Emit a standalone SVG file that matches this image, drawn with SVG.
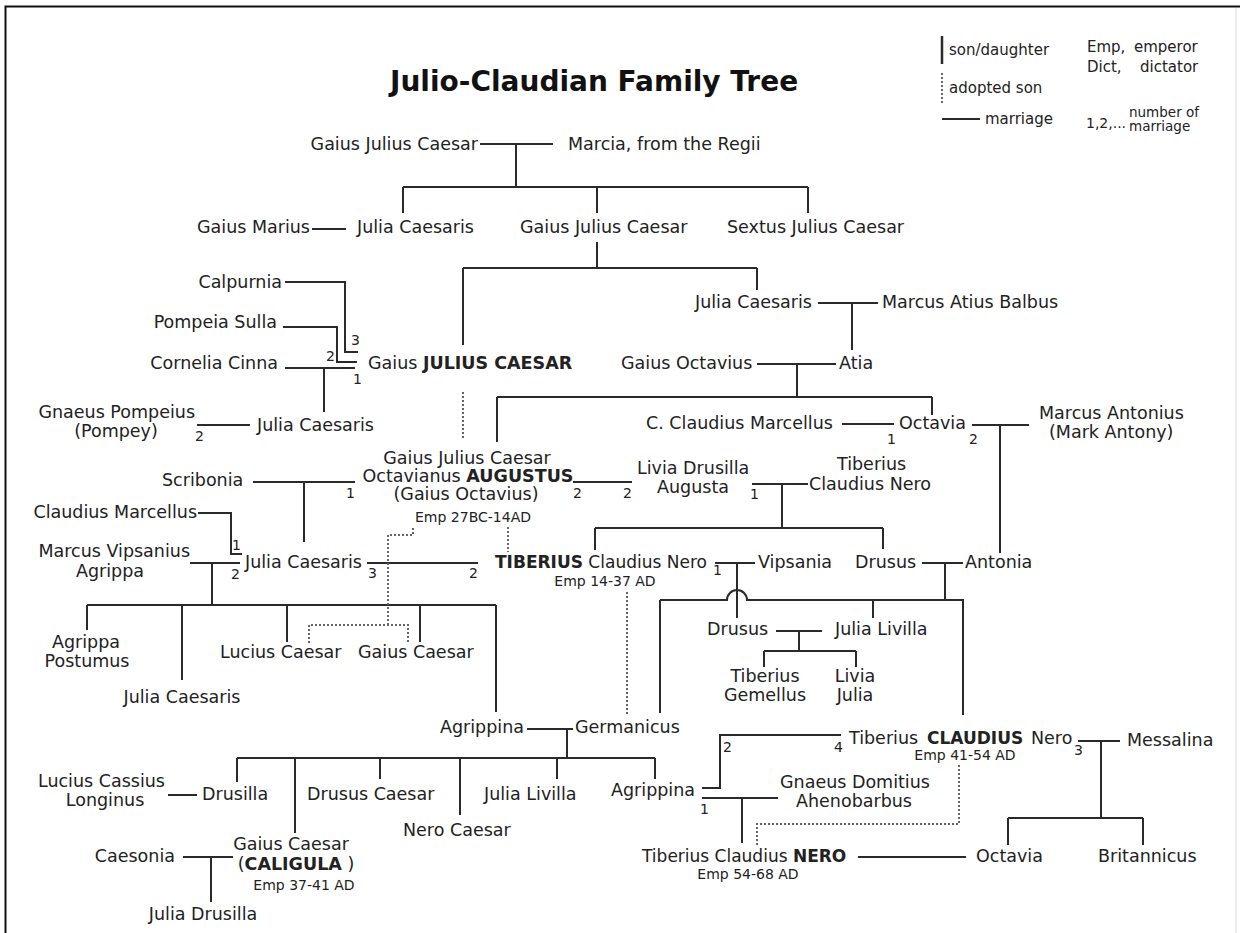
<svg xmlns="http://www.w3.org/2000/svg" width="1240" height="933" viewBox="0 0 1240 933">
<style>
text{font-family:"DejaVu Sans","Verdana",sans-serif;font-size:17.5px;fill:#222}
.e{text-anchor:end}
.m{text-anchor:middle}
.s{font-size:14px}
.n{font-size:14px}
.b{font-weight:bold}
.k{font-size:17px}
.title{font-size:28px;font-weight:bold;fill:#111}
.lg{font-size:15px}
.lgs{font-size:13.5px}
.l{stroke:#2a2a2a;stroke-width:2;fill:none}
.d{stroke:#666;stroke-width:2;stroke-dasharray:2 2;fill:none}
</style>
<rect width="1240" height="933" fill="#fff"/>
<path d="M5.5 933V6.5H1240" fill="none" stroke="#111" stroke-width="2"/>
<path d="M1236 8V933" fill="none" stroke="#ddd" stroke-width="1"/>
<g id="title"><text class="title" x="390" y="91">Julio-Claudian Family Tree</text></g>
<g id="legend">
<path d="M942 36V64" stroke="#2a2a2a" stroke-width="2.5"/>
<path class="l" d="M942 119H980"/>
<path class="d" d="M942 73V104"/>
<text class="lg" x="949" y="55">son/daughter</text>
<text class="lg" x="949" y="93">adopted son</text>
<text class="lg" x="985" y="124">marriage</text>
<text class="lg" x="1087" y="52">Emp,<tspan x="1134">emperor</tspan></text>
<text class="lg" x="1087" y="72">Dict,<tspan x="1140">dictator</tspan></text>
<text class="s" x="1086" y="128">1,2,...</text>
<text class="lgs" x="1129" y="117">number of</text>
<text class="lgs" x="1129" y="131">marriage</text>
</g>
<g id="connectors">
<path class="l" d="M480 144H553M516 144V187M403 187H808M403 187V213M597 187V213M808 187V213
M312 229H346
M597 242V268M463 268H757M463 268V345M757 268V290
M818 303H878M852 303V350
M285 282H345V352H358
M283 327H337V362H357
M285 368H355M324 368V412
M757 364H836M797 364V397M497 397H932M497 397V442M932 397V415
M197 425H250
M842 424H894
M972 425H1029M1000 425V553
M573 482H632
M752 484H808M782 484V528M595 528H883M595 528V550M883 528V549
M253 482H355M304 482V542
M198 513H231V554H242
M190 563H240M212 563V605
M367 563H478
M715 563H755M737 563V618
M922 563H963M945 563V600
M660 600H727A10 10 0 0 1 747 600H963V715M660 600V713M873 600V618
M776 631H822M799 631V651M764 651H856M764 651V667M856 651V667
M87 605H496M87 605V630M182 605V680M287 605V642M420 605V642M496 605V712
M527 729H573M567 729V758
M237 758H655M237 758V782M295 758V833M380 758V779M460 758V815M557 758V779M655 758V779
M168 795H197
M183 857H233M211 857V902
M702 788H720V735H841
M1078 741H1120M1101 741V818M1008 818H1143M1008 818V845M1143 818V845
M702 798H778M742 798V843
M858 857H966"/>
<path class="d" d="M463 392V440M413 528V535H388V625M309 643V625H408V643M508 527V552M627 592V715M959 765V824H757V845"/>
</g>
<g id="marriage-numbers">
<text class="n" x="351" y="345">3</text>
<text class="n" x="326" y="361">2</text>
<text class="n" x="353" y="384">1</text>
<text class="n" x="195" y="441">2</text>
<text class="n" x="887" y="444">1</text>
<text class="n" x="969" y="444">2</text>
<text class="n" x="573" y="498">2</text>
<text class="n" x="623" y="498">2</text>
<text class="n" x="750" y="499">1</text>
<text class="n" x="346" y="498">1</text>
<text class="n" x="232" y="550">1</text>
<text class="n" x="231" y="579">2</text>
<text class="n" x="368" y="578">3</text>
<text class="n" x="469" y="578">2</text>
<text class="n" x="713" y="575">1</text>
<text class="n" x="723" y="752">2</text>
<text class="n" x="834" y="752">4</text>
<text class="n" x="1074" y="755">3</text>
<text class="n" x="700" y="814">1</text>
</g>
<g id="gaius-julius-caesar-elder"><text class="e" x="478" y="150">Gaius Julius Caesar</text></g>
<g id="marcia"><text x="568" y="150">Marcia, from the Regii</text></g>
<g id="gaius-marius"><text class="e" x="310" y="233">Gaius Marius</text></g>
<g id="julia-caesaris-aunt"><text x="357" y="233">Julia Caesaris</text></g>
<g id="gaius-julius-caesar-father"><text x="520" y="233">Gaius Julius Caesar</text></g>
<g id="sextus-julius-caesar"><text x="727" y="233">Sextus Julius Caesar</text></g>
<g id="julia-caesaris-sister"><text x="695" y="308">Julia Caesaris</text></g>
<g id="marcus-atius-balbus"><text x="882" y="308">Marcus Atius Balbus</text></g>
<g id="calpurnia"><text class="e" x="282" y="288">Calpurnia</text></g>
<g id="pompeia-sulla"><text class="e" x="277" y="328">Pompeia Sulla</text></g>
<g id="cornelia-cinna"><text class="e" x="278" y="369">Cornelia Cinna</text></g>
<g id="julius-caesar"><text x="368" y="369">Gaius <tspan class="b">JULIUS CAESAR</tspan></text></g>
<g id="gaius-octavius"><text x="621" y="369">Gaius Octavius</text></g>
<g id="atia"><text x="839" y="369">Atia</text></g>
<g id="pompey"><text class="e" x="195" y="418">Gnaeus Pompeius</text><text class="m" x="116" y="437">(Pompey)</text></g>
<g id="julia-caesaris-daughter"><text x="257" y="431">Julia Caesaris</text></g>
<g id="c-claudius-marcellus"><text x="646" y="429">C. Claudius Marcellus</text></g>
<g id="octavia-elder"><text x="899" y="429">Octavia</text></g>
<g id="marcus-antonius"><text x="1039" y="419">Marcus Antonius</text><text x="1049" y="438">(Mark Antony)</text></g>
<g id="augustus"><text class="m" x="467" y="464">Gaius Julius Caesar</text><text class="m" x="468" y="482">Octavianus <tspan class="b">AUGUSTUS</tspan></text><text class="m" x="466" y="500">(Gaius Octavius)</text><text class="m s" x="473" y="522">Emp 27BC-14AD</text></g>
<g id="livia"><text x="637" y="474">Livia Drusilla</text><text x="657" y="493">Augusta</text></g>
<g id="tiberius-claudius-nero-elder"><text x="837" y="470">Tiberius</text><text x="809" y="490">Claudius Nero</text></g>
<g id="scribonia"><text x="162" y="486">Scribonia</text></g>
<g id="claudius-marcellus"><text class="e" x="197" y="518">Claudius Marcellus</text></g>
<g id="agrippa"><text class="e" x="190" y="557">Marcus Vipsanius</text><text class="m" x="110" y="577">Agrippa</text></g>
<g id="julia-elder"><text x="245" y="568">Julia Caesaris</text></g>
<g id="tiberius"><text class="k" x="495" y="568"><tspan class="b">TIBERIUS</tspan> Claudius Nero</text><text class="m s" x="605" y="586">Emp 14-37 AD</text></g>
<g id="vipsania"><text x="758" y="568">Vipsania</text></g>
<g id="drusus-elder"><text x="855" y="568">Drusus</text></g>
<g id="antonia"><text x="965" y="568">Antonia</text></g>
<g id="drusus-younger"><text x="707" y="635">Drusus</text></g>
<g id="julia-livilla-elder"><text x="835" y="635">Julia Livilla</text></g>
<g id="tiberius-gemellus"><text class="m" x="765" y="682">Tiberius</text><text class="m" x="765" y="701">Gemellus</text></g>
<g id="livia-julia"><text class="m" x="855" y="682">Livia</text><text class="m" x="855" y="701">Julia</text></g>
<g id="agrippa-postumus"><text class="m" x="86" y="648">Agrippa</text><text class="m" x="87" y="667">Postumus</text></g>
<g id="julia-younger"><text class="m" x="182" y="703">Julia Caesaris</text></g>
<g id="lucius-caesar"><text x="220" y="658">Lucius Caesar</text></g>
<g id="gaius-caesar"><text x="358" y="658">Gaius Caesar</text></g>
<g id="agrippina-elder"><text class="e" x="524" y="733">Agrippina</text></g>
<g id="germanicus"><text x="575" y="733">Germanicus</text></g>
<g id="lucius-cassius-longinus"><text class="e" x="165" y="787">Lucius Cassius</text><text class="m" x="105" y="806">Longinus</text></g>
<g id="drusilla"><text x="202" y="800">Drusilla</text></g>
<g id="drusus-caesar"><text x="307" y="800">Drusus Caesar</text></g>
<g id="nero-caesar"><text x="403" y="836">Nero Caesar</text></g>
<g id="julia-livilla-younger"><text x="484" y="800">Julia Livilla</text></g>
<g id="caligula"><text class="m" x="291" y="850">Gaius Caesar</text><text class="m" x="296" y="870">(<tspan class="b">CALIGULA</tspan> )</text><text class="m s" x="304" y="890">Emp 37-41 AD</text></g>
<g id="caesonia"><text class="e" x="175" y="862">Caesonia</text></g>
<g id="julia-drusilla"><text class="m" x="203" y="920">Julia Drusilla</text></g>
<g id="agrippina-younger"><text x="611" y="796">Agrippina</text></g>
<g id="claudius"><text x="849" y="744">Tiberius<tspan class="b k" x="927">CLAUDIUS</tspan><tspan x="1031">Nero</tspan></text><text class="m s" x="965" y="760">Emp 41-54 AD</text></g>
<g id="messalina"><text x="1127" y="746">Messalina</text></g>
<g id="ahenobarbus"><text x="780" y="788">Gnaeus Domitius</text><text x="796" y="807">Ahenobarbus</text></g>
<g id="nero"><text class="k" x="642" y="862">Tiberius Claudius <tspan class="b">NERO</tspan></text><text class="m s" x="748" y="879">Emp 54-68 AD</text></g>
<g id="octavia-younger"><text x="976" y="862">Octavia</text></g>
<g id="britannicus"><text x="1098" y="862">Britannicus</text></g>
</svg>
